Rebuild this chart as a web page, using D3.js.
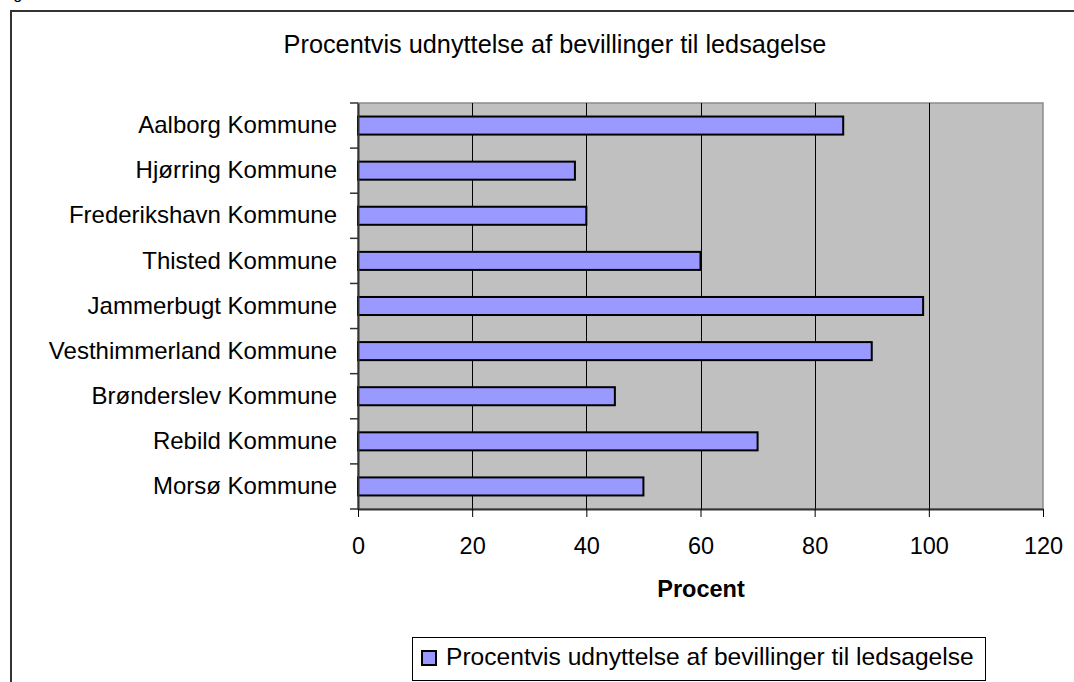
<!DOCTYPE html>
<html>
<head>
<meta charset="utf-8">
<script src="https://cdn.jsdelivr.net/npm/d3@7"></script>
<style>
  body { margin: 0; background: #fff; }
  svg { display: block; font-family: Arial, "Liberation Sans", sans-serif; }
</style>
</head>
<body>
<div id="chart"></div>
<script>
// chart data
var kommuner = ["Aalborg Kommune", "Hjørring Kommune", "Frederikshavn Kommune",
  "Thisted Kommune", "Jammerbugt Kommune", "Vesthimmerland Kommune",
  "Brønderslev Kommune", "Rebild Kommune", "Morsø Kommune"];
var procent = [85, 38, 40, 60, 99, 90, 45, 70, 50];
var xTicks = [0, 20, 40, 60, 80, 100, 120];
var titel = "Procentvis udnyttelse af bevillinger til ledsagelse";
var xTitel = "Procent";

var width = 1074, height = 682;
var plot = {left: 358, right: 1043, top: 103, bottom: 509};

var svg = d3.select("#chart").append("svg")
    .attr("width", width)
    .attr("height", height);

// caption above the frame, mostly outside the picture
svg.append("text")
    .attr("x", 0).attr("y", -1)
    .style("font-size", "16px")
    .text("Figur");

// outer frame (only left and top are inside the picture)
svg.append("path")
    .attr("d", "M11," + height + "V11H" + width)
    .attr("fill", "none")
    .attr("stroke", "#333")
    .attr("stroke-width", 2);

var x = d3.scaleLinear()
    .domain([0, 120])
    .range([plot.left, plot.right]);

var y = d3.scaleBand()
    .domain(kommuner)
    .range([plot.top, plot.bottom])
    .paddingInner(0.6)
    .paddingOuter(0.3);

// plot background
svg.append("rect")
    .attr("x", plot.left).attr("y", plot.top)
    .attr("width", plot.right - plot.left)
    .attr("height", plot.bottom - plot.top)
    .attr("fill", "#c0c0c0")
    .attr("stroke", "#8c8c8c")
    .attr("stroke-width", 1.5);

// gridlines
svg.append("g").selectAll("line")
    .data(xTicks.filter(function(d){ return d > 0 && d < 120; }))
    .enter().append("line")
    .attr("x1", function(d){ return Math.round(x(d)) + 0.5; })
    .attr("x2", function(d){ return Math.round(x(d)) + 0.5; })
    .attr("y1", plot.top).attr("y2", plot.bottom)
    .attr("stroke", "#000");

// bars
svg.append("g").selectAll("rect")
    .data(procent)
    .enter().append("rect")
    .attr("x", x(0))
    .attr("y", function(d, i){ return y(kommuner[i]); })
    .attr("width", function(d){ return x(d) - x(0); })
    .attr("height", y.bandwidth())
    .attr("fill", "#9999ff")
    .attr("stroke", "#000")
    .attr("stroke-width", 2);

// x axis
var xAxis = svg.append("g")
    .attr("transform", "translate(0," + plot.bottom + ")")
    .call(d3.axisBottom(x).tickValues(xTicks).tickSize(8).tickPadding(20).tickSizeOuter(0));
xAxis.select(".domain").attr("stroke", "#333").attr("stroke-width", 2);
xAxis.selectAll(".tick line").attr("stroke", "#000");
xAxis.selectAll("text")
    .style("font-size", "23.5px")
    .attr("fill", "#000");

// y axis labels
var yAxis = svg.append("g")
    .attr("transform", "translate(" + plot.left + ",0)")
    .call(d3.axisLeft(y).tickSize(0).tickPadding(21));
yAxis.select(".domain").attr("stroke", "#333").attr("stroke-width", 2);
yAxis.selectAll("text")
    .style("font-size", "24px")
    .attr("fill", "#000");

// y tick marks sit between the categories
svg.append("g").selectAll("line")
    .data(d3.range(kommuner.length + 1))
    .enter().append("line")
    .attr("x1", plot.left - 8).attr("x2", plot.left)
    .attr("y1", function(i){ return plot.top + i * y.step(); })
    .attr("y2", function(i){ return plot.top + i * y.step(); })
    .attr("stroke", "#333")
    .attr("stroke-width", 1.5);

// titles
svg.append("text")
    .attr("x", 555).attr("y", 53)
    .attr("text-anchor", "middle")
    .style("font-size", "25.3px")
    .text(titel);

svg.append("text")
    .attr("x", 701).attr("y", 597)
    .attr("text-anchor", "middle")
    .style("font-size", "23.5px")
    .style("font-weight", "bold")
    .text(xTitel);

// legend
var legend = svg.append("g");
legend.append("rect")
    .attr("x", 412.5).attr("y", 637.5)
    .attr("width", 573).attr("height", 43)
    .attr("fill", "#fff")
    .attr("stroke", "#000");
legend.append("rect")
    .attr("x", 422).attr("y", 651)
    .attr("width", 14).attr("height", 14)
    .attr("fill", "#9999ff")
    .attr("stroke", "#000")
    .attr("stroke-width", 2);
legend.append("text")
    .attr("x", 446).attr("y", 665)
    .style("font-size", "24.6px")
    .text(titel);
</script>
</body>
</html>
